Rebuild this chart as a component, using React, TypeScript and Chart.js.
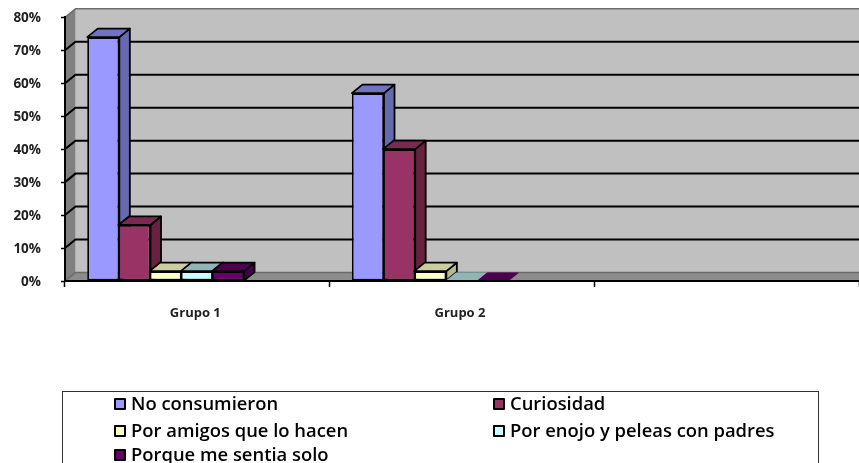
import React, { useEffect, useRef } from "react";
import { Chart, registerables } from "chart.js";

Chart.register(...registerables);

const categories = ["Grupo 1", "Grupo 2", ""];
const seriesNames = [
  "No consumieron",
  "Curiosidad",
  "Por amigos que lo hacen",
  "Por enojo y peleas con padres",
  "Porque me sentia solo",
];
const noConsumieron = [74, 57, null];
const curiosidad = [17, 40, null];
const porAmigos = [3, 3, null];
const porEnojo = [3, 0, null];
const porqueSolo = [3, 0, null];
const seriesValues = [noConsumieron, curiosidad, porAmigos, porEnojo, porqueSolo];

const frontColors = ["#9999FF", "#993366", "#FFFFCC", "#CCFFFF", "#660066"];
const topColors = ["#7074C0", "#7A2950", "#CCCCA3", "#8FB5B5", "#4D004D"];
const sideColors = ["#666AAE", "#66223F", "#B8B88F", "#8FB3B3", "#470047"];

const DEPTH_X = 10.5;
const DEPTH_Y = 8.5;
const BAR_SHIFT = -31.7;

const poly = (ctx: CanvasRenderingContext2D, pts: number[][], fill: string, stroke?: string, lw = 1.8) => {
  ctx.beginPath();
  pts.forEach((p, i) => (i ? ctx.lineTo(p[0], p[1]) : ctx.moveTo(p[0], p[1])));
  ctx.closePath();
  ctx.fillStyle = fill;
  ctx.fill();
  if (stroke) {
    ctx.strokeStyle = stroke;
    ctx.lineWidth = lw;
    ctx.lineJoin = "round";
    ctx.stroke();
  }
};

const wallsPlugin = {
  id: "walls3d",
  beforeDraw(chart: any) {
    const { ctx, chartArea: a, scales } = chart;
    const y = scales.y;
    ctx.save();
    poly(ctx, [[a.left + DEPTH_X, a.top - DEPTH_Y], [a.right, a.top - DEPTH_Y], [a.right, a.bottom - DEPTH_Y], [a.left + DEPTH_X, a.bottom - DEPTH_Y]], "#C0C0C0");
    poly(ctx, [[a.left, a.top], [a.left + DEPTH_X, a.top - DEPTH_Y], [a.left + DEPTH_X, a.bottom - DEPTH_Y], [a.left, a.bottom]], "#808080");
    poly(ctx, [[a.left, a.bottom], [a.left + DEPTH_X, a.bottom - DEPTH_Y], [a.right, a.bottom - DEPTH_Y], [a.right, a.bottom]], "#8C8C8C");
    y.ticks.forEach((t: any) => {
      const py = y.getPixelForValue(t.value);
      const isTop = t.value === y.max;
      const isBase = t.value === y.min;
      ctx.beginPath();
      ctx.moveTo(a.left, py);
      ctx.lineTo(a.left + DEPTH_X, py - DEPTH_Y);
      ctx.lineTo(a.right, py - DEPTH_Y);
      ctx.strokeStyle = isTop ? "#6E6E6E" : isBase ? "#6A6A6A" : "#000000";
      ctx.lineWidth = isTop || isBase ? 1.5 : 2;
      ctx.stroke();
    });
    ctx.restore();
  },
  // The library would paint datasets last-to-first; the 3D overlap needs first-to-last.
  beforeDatasetDraw() {
    return false;
  },
  afterDatasetsDraw(chart: any) {
    const { ctx } = chart;
    ctx.save();
    ctx.translate(BAR_SHIFT, 0);
    seriesNames.forEach((_, i) => {
      const meta = chart.getDatasetMeta(i);
      meta.data.forEach((bar: any, idx: number) => {
        if (seriesValues[i][idx] === null) return;
        const p = bar.getProps(["x", "y", "base", "width"], true);
        const l = p.x - p.width / 2;
        const r = p.x + p.width / 2;
        const stroke = seriesValues[i][idx] === 0 ? undefined : "#000000";
        poly(ctx, [[r, p.y], [r + DEPTH_X, p.y - DEPTH_Y], [r + DEPTH_X, p.base - DEPTH_Y], [r, p.base]], sideColors[i], stroke);
        poly(ctx, [[l, p.y], [l + DEPTH_X, p.y - DEPTH_Y], [r + DEPTH_X, p.y - DEPTH_Y], [r, p.y]], topColors[i], stroke);
        bar.draw(ctx);
      });
    });
    ctx.restore();
  },
};

const tickFont = { family: "'Open Sans', sans-serif", size: 13, weight: "700" as const };

export default function App() {
  const ref = useRef<HTMLCanvasElement>(null);
  useEffect(() => {
    const chart = new Chart(ref.current as HTMLCanvasElement, {
      type: "bar",
      data: {
        labels: categories,
        datasets: seriesNames.map((name, i) => ({
          label: name,
          data: seriesValues[i],
          backgroundColor: frontColors[i],
          borderColor: "#000000",
          borderWidth: 1.8,
          borderSkipped: false,
          barPercentage: 1.03,
          categoryPercentage: 0.589,
        })),
      } as any,
      options: {
        animation: false,
        responsive: false,
        layout: { padding: { top: 17.3, left: 0, right: 0, bottom: 0 } },
        plugins: { legend: { display: false }, tooltip: { enabled: false }, title: { display: false } },
        scales: {
          x: {
            grid: { drawOnChartArea: false, offset: true, tickLength: 6, tickColor: "#000000", tickWidth: 1.5 },
            border: { display: true, color: "#000000", width: 2, z: 1 },
            ticks: { font: tickFont, color: "#222222", padding: 18, maxRotation: 0, labelOffset: -2 },
            afterFit: (s: any) => { s.height = 182; },
          },
          y: {
            min: 0,
            max: 80,
            grid: { drawOnChartArea: false, tickLength: 4, tickColor: "#000000", tickWidth: 1.5 },
            border: { display: true, color: "#000000", width: 2 },
            ticks: { stepSize: 10, font: { ...tickFont, size: 13.5 }, color: "#222222", padding: 20, labelOffset: 1, callback: (v: any) => `${v}%` },
            afterFit: (s: any) => { s.width = 65; s.paddingTop = 0; s.paddingBottom = 0; },
          },
        },
      } as any,
      plugins: [wallsPlugin],
    });
    return () => chart.destroy();
  }, []);

  const rows = [
    { x: 114, y: 403, i: 0 },
    { x: 493, y: 403, i: 1 },
    { x: 114, y: 430, i: 2 },
    { x: 493, y: 430, i: 3 },
    { x: 114, y: 454, i: 4 },
  ];
  return (
    <div style={{ position: "fixed", left: 0, top: 0, width: 859, height: 463, overflow: "hidden", background: "#fff", filter: "blur(0.35px)" }}>
      <canvas ref={ref} width={859} height={463} style={{ position: "absolute", left: 0, top: 0, width: 859, height: 463 }} />
      <div style={{ position: "absolute", left: 62, top: 391, width: 755, height: 100, border: "1px solid #333", boxSizing: "content-box" }} />
      {rows.map((r) => (
        <div key={r.i}>
          <div style={{ position: "absolute", left: r.x, top: r.y - 5, width: 8, height: 8, background: frontColors[r.i], border: "2px solid #000", borderRadius: 1 }} />
          <div style={{ position: "absolute", left: r.x + 17, top: r.y - 12, whiteSpace: "nowrap", font: "600 18.4px/24px 'Open Sans', sans-serif", color: "#000" }}>
            {seriesNames[r.i]}
          </div>
        </div>
      ))}
    </div>
  );
}
